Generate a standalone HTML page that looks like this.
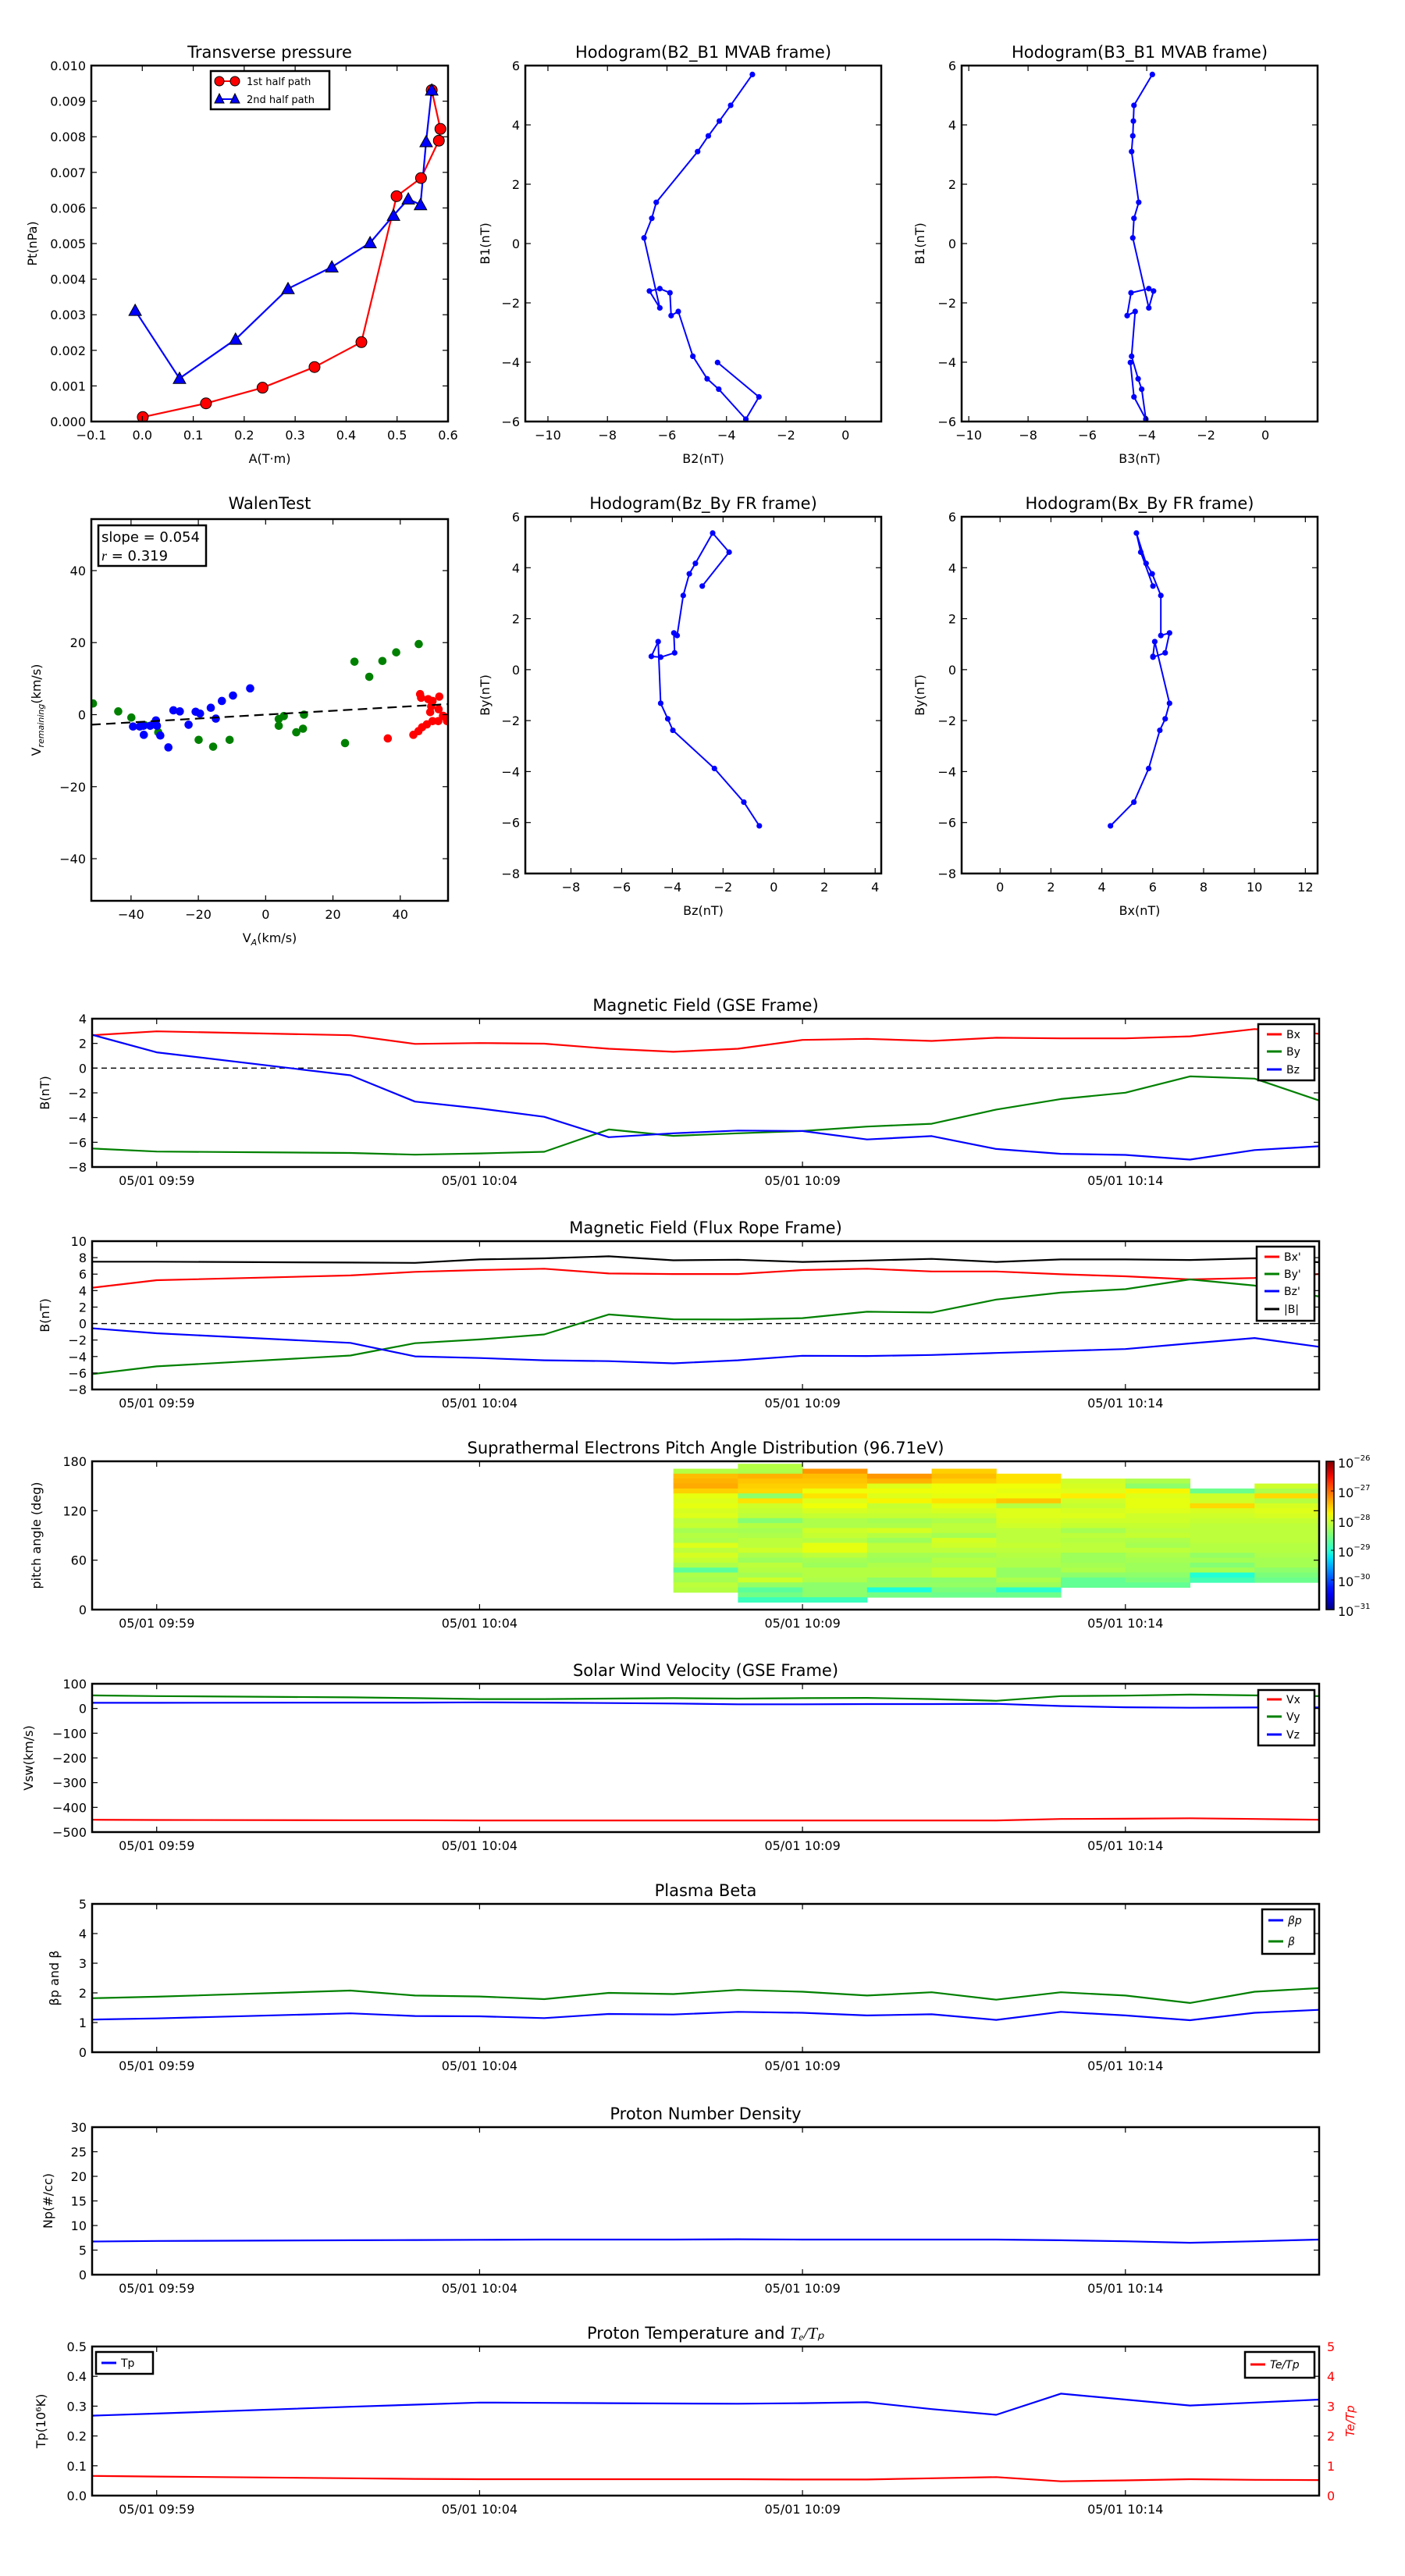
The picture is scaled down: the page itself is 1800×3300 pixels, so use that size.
<!DOCTYPE html>
<html><head><meta charset="utf-8"><style>
html,body{margin:0;padding:0;background:#fff;}
svg{display:block;font-family:"DejaVu Sans","Liberation Sans",sans-serif;}
</style></head><body>
<svg id="chart" xmlns="http://www.w3.org/2000/svg" width="1800" height="3300" viewBox="0 0 1800 3300"><rect width="1800" height="3300" fill="#fff"/></svg>
<script>
// ---------- data ----------
const tpRedA=[0.001,0.125,0.236,0.338,0.430,0.499,0.547,0.582,0.585,0.568];
const tpRedP=[0.000126,0.00051,0.00095,0.00153,0.00223,0.00633,0.00684,0.00789,0.00822,0.00931];
const tpBlueA=[-0.014,0.073,0.183,0.286,0.372,0.447,0.493,0.522,0.546,0.557,0.568];
const tpBlueP=[0.00312,0.00121,0.00231,0.00373,0.00434,0.00502,0.00579,0.00625,0.00609,0.00786,0.00931];
const mvB1=[5.70,4.66,4.13,3.63,3.10,1.39,0.85,0.19,-2.17,-1.60,-1.52,-1.66,-2.43,-2.29,-3.80,-4.56,-4.91,-5.92,-5.17,-4.01];
const mvB2=[-3.13,-3.86,-4.24,-4.61,-4.97,-6.36,-6.51,-6.77,-6.24,-6.59,-6.24,-5.90,-5.86,-5.62,-5.13,-4.65,-4.26,-3.35,-2.91,-4.30];
const mvB3=[-3.81,-4.43,-4.45,-4.47,-4.51,-4.27,-4.43,-4.47,-3.93,-3.77,-3.93,-4.53,-4.66,-4.39,-4.51,-4.29,-4.17,-4.03,-4.43,-4.55];
const wBlueX=[-39.4,-36.2,-36.3,-32.6,-32.3,-31.3,-28.9,-27.4,-25.5,-22.9,-20.8,-19.5,-16.3,-14.8,-13.0,-9.7,-4.6,-37.4,-34.3];
const wBlueY=[-3.3,-5.6,-3.1,-1.6,-3.1,-5.8,-9.1,1.2,0.9,-2.8,0.8,0.3,1.9,-1.1,3.8,5.3,7.3,-3.3,-3.1];
const wGreenX=[-51.3,-43.8,-39.9,-36.0,-31.9,-19.9,-15.6,-10.7,3.9,3.9,5.4,9.1,11.1,11.4,23.6,26.4,30.8,34.7,38.8,45.5];
const wGreenY=[3.1,0.9,-0.8,-2.9,-4.9,-7.0,-8.9,-7.0,-1.2,-3.1,-0.4,-4.9,-3.9,0,-7.9,14.7,10.5,14.9,17.3,19.6];
const wRedX=[36.3,43.9,45.4,46.5,47.9,49.6,51.3,53.2,53.9,48.9,51.4,45.9,46.2,48.3,49.6,51.6,49.2,52.7];
const wRedY=[-6.6,-5.6,-4.6,-3.5,-2.7,-1.8,-1.8,-0.6,-1.8,0.7,1.5,5.7,4.7,4.3,3.8,5.0,2.3,-0.3];
const walenSlope=0.054, walenIntercept=0.0;
const times=[0,1,4,5,6,7,8,9,10,11,12,13,14,15,16,17,18,19];
const timeTicks=[1,6,11,16];
const timeLabels=['05/01 09:59','05/01 10:04','05/01 10:09','05/01 10:14'];
const gseBx=[2.66,2.98,2.66,1.96,2.03,1.98,1.57,1.32,1.57,2.28,2.37,2.2,2.46,2.41,2.41,2.57,3.16,2.78];
const gseBy=[-6.5,-6.75,-6.86,-7.0,-6.9,-6.77,-4.96,-5.48,-5.27,-5.09,-4.73,-4.5,-3.35,-2.5,-1.99,-0.67,-0.85,-2.62];
const gseBz=[2.7,1.28,-0.58,-2.71,-3.26,-3.94,-5.59,-5.27,-5.05,-5.09,-5.77,-5.5,-6.54,-6.93,-7.02,-7.4,-6.63,-6.32];
const frBx=[4.34,5.26,5.84,6.28,6.49,6.66,6.08,6.01,6.01,6.49,6.66,6.32,6.32,5.98,5.74,5.36,5.53,6.01];
const frBy=[-6.13,-5.2,-3.88,-2.38,-1.93,-1.32,1.1,0.52,0.49,0.66,1.44,1.34,2.91,3.76,4.17,5.36,4.61,3.28];
const frBz=[-0.57,-1.18,-2.34,-3.98,-4.18,-4.46,-4.56,-4.83,-4.46,-3.91,-3.94,-3.81,-3.57,-3.33,-3.09,-2.41,-1.76,-2.82];
const frBt=[7.51,7.51,7.4,7.37,7.78,7.92,8.16,7.68,7.75,7.48,7.65,7.85,7.48,7.78,7.78,7.72,7.92,7.44];
const padMinutes=[9,10,11,12,13,14,15,16,17,18];
const padFirstRow=[1,0,1,2,1,2,3,3,5,4];
const padLog=[
[-28.15,-27.45,-27.4,-27.35,-27.55,-27.85,-27.9,-27.85,-27.95,-27.9,-28.1,-28.05,-28.25,-28.15,-28.2,-27.9,-28.1,-27.95,-28.05,-28.2,-28.7,-28.2,-28.25,-28.1,-28.15],
[-28.15,-28.2,-27.4,-27.5,-27.55,-27.6,-28.4,-27.65,-28.0,-28.05,-28.1,-28.45,-28.15,-28.25,-28.2,-28.1,-28.1,-28.0,-28.2,-28.3,-28.1,-28.15,-28.25,-28.0,-28.35,-28.7,-28.55,-28.9],
[-27.25,-27.45,-27.5,-27.55,-27.8,-27.65,-27.9,-27.8,-27.95,-28.05,-28.2,-28.2,-28.0,-28.05,-28.15,-27.85,-27.85,-28.1,-28.25,-28.3,-28.15,-28.15,-28.2,-28.4,-28.4,-28.4,-28.9],
[-27.25,-27.4,-27.9,-27.8,-27.9,-27.75,-28.05,-28.0,-28.05,-28.25,-28.2,-27.95,-28.15,-28.3,-28.1,-28.1,-28.25,-28.3,-28.2,-28.15,-28.15,-28.4,-28.35,-29.1,-28.55],
[-27.55,-27.45,-27.55,-27.8,-27.8,-27.85,-27.65,-27.85,-27.95,-28.05,-28.2,-28.1,-28.1,-28.25,-27.95,-28.0,-28.1,-28.25,-28.15,-28.2,-28.05,-28.05,-28.4,-28.35,-28.5,-28.6],
[-27.65,-27.65,-27.8,-27.85,-27.8,-27.5,-28.15,-27.9,-27.9,-27.95,-28.0,-28.1,-28.1,-28.1,-28.05,-28.1,-28.15,-28.2,-28.2,-28.35,-28.35,-28.2,-28.3,-29.0,-28.6],
[-28.0,-27.95,-27.9,-27.7,-28.0,-28.05,-27.95,-27.9,-28.0,-28.05,-28.25,-28.1,-28.15,-28.1,-28.1,-28.3,-28.3,-28.25,-28.2,-28.4,-28.65,-28.65],
[-28.2,-28.4,-27.75,-27.9,-27.85,-27.85,-27.9,-28.0,-28.0,-28.05,-28.1,-28.05,-28.2,-28.25,-28.1,-28.2,-28.25,-28.3,-28.3,-28.4,-28.5,-28.65],
[-28.6,-28.0,-28.0,-27.6,-27.95,-28.0,-28.05,-28.1,-28.1,-28.1,-28.1,-28.15,-28.15,-28.35,-28.25,-28.45,-28.25,-29.05,-28.85],
[-28.0,-28.2,-27.6,-28.15,-27.95,-27.9,-27.95,-28.05,-28.1,-28.1,-28.1,-28.1,-28.15,-28.15,-28.2,-28.25,-28.25,-28.4,-28.5,-28.6]];
const swVx=[-450,-451,-452,-452,-453,-453,-453,-453,-453,-453,-453,-453,-453,-447,-446,-444,-447,-450];
const swVy=[53,50,45,42,38,38,40,42,40,42,43,38,31,50,52,56,53,50];
const swVz=[23,23,24,24,25,24,22,20,17,17,18,18,19,10,5,3,4,4];
const betaP=[1.10,1.14,1.31,1.22,1.21,1.15,1.29,1.27,1.36,1.33,1.24,1.28,1.09,1.36,1.24,1.08,1.33,1.43];
const betaT=[1.82,1.87,2.08,1.91,1.88,1.79,2.0,1.96,2.10,2.04,1.91,2.02,1.77,2.02,1.91,1.66,2.04,2.16];
const npVals=[6.75,6.85,7.0,7.05,7.1,7.15,7.15,7.15,7.2,7.15,7.15,7.15,7.15,7.0,6.8,6.5,6.8,7.15];
const tpVals=[0.268,0.275,0.298,0.305,0.312,0.311,0.310,0.309,0.308,0.310,0.313,0.29,0.271,0.342,0.322,0.302,0.312,0.322];
const teTp=[0.66,0.64,0.58,0.56,0.55,0.55,0.55,0.55,0.55,0.54,0.54,0.58,0.62,0.48,0.51,0.55,0.53,0.52];

// ---------- helpers ----------
const NS='http://www.w3.org/2000/svg';
const svg=document.getElementById('chart');
let clipN=0;
function mk(tag,attrs,parent){const e=document.createElementNS(NS,tag);for(const k in attrs)e.setAttribute(k,attrs[k]);(parent||svg).appendChild(e);return e;}
function fmt(v,d){let s=(d===undefined)?String(v):v.toFixed(d);return s.replace('-','\u2212');}
function text(parent,x,y,s,size,anchor,extra){const t=mk('text',Object.assign({x:x,y:y,'font-size':size,'text-anchor':anchor||'middle',fill:'#000'},extra||{}),parent);t.textContent=s;return t;}
function axes(name,box,xr,yr){
  const g=mk('g',{});
  
  
  const sx=v=>box[0]+(v-xr[0])/(xr[1]-xr[0])*(box[2]-box[0]);
  const sy=v=>box[3]-(v-yr[0])/(yr[1]-yr[0])*(box[3]-box[1]);
  const id='clip'+(clipN++);
  const cp=mk('clipPath',{id:id},g);
  mk('rect',{x:box[0],y:box[1],width:box[2]-box[0],height:box[3]-box[1]},cp);
  const plot=mk('g',{'clip-path':'url(#'+id+')'},g);
  
  
  return {g,plot,sx,sy,box};
}
function frame(ax){const r=mk('rect',{x:ax.box[0],y:ax.box[1],width:ax.box[2]-ax.box[0],height:ax.box[3]-ax.box[1],fill:'none',stroke:'#000','stroke-width':2.5},ax.g);
  
  }
function xticks(ax,vals,labels,size){const b=ax.box;const g=mk('g',{},ax.g);
  
  
  vals.forEach((v,i)=>{const x=ax.sx(v);
    mk('line',{x1:x,x2:x,y1:b[3],y2:b[3]-7,stroke:'#000','stroke-width':1.2},g);
    mk('line',{x1:x,x2:x,y1:b[1],y2:b[1]+7,stroke:'#000','stroke-width':1.2},g);
    const t=text(g,x,b[3]+23,labels[i],size||16,'middle');
    
    });}
function yticks(ax,vals,labels,size,noRight){const b=ax.box;const g=mk('g',{},ax.g);
  
  
  vals.forEach((v,i)=>{const y=ax.sy(v);
    mk('line',{x1:b[0],x2:b[0]+7,y1:y,y2:y,stroke:'#000','stroke-width':1.2},g);
    if(!noRight)mk('line',{x1:b[2],x2:b[2]-7,y1:y,y2:y,stroke:'#000','stroke-width':1.2},g);
    const t=text(g,b[0]-7,y+6,labels[i],size||16,'end');
    
    });}
function title(ax,s,dy){const t=text(ax.g,(ax.box[0]+ax.box[2])/2,ax.box[1]-(dy||10),s,21,'middle');
  
  return t;}
function xlabel(ax,s){const t=text(ax.g,(ax.box[0]+ax.box[2])/2,ax.box[3]+53,s,16,'middle');
  
  return t;}
function ylabel(ax,x,s,color){const cy=(ax.box[1]+ax.box[3])/2;const t=text(ax.g,x,cy,s,16,'middle',{transform:'rotate(-90 '+x+' '+cy+')',fill:color||'#000'});
  
  return t;}
function polyline(ax,xs,ys,color,w,name){const pts=xs.map((x,i)=>ax.sx(x).toFixed(1)+','+ax.sy(ys[i]).toFixed(1)).join(' ');
  const p=mk('polyline',{points:pts,fill:'none',stroke:color,'stroke-width':w||2.2,'stroke-linejoin':'round'},ax.plot);
  
  return p;}
function dots(ax,xs,ys,color,r,name,stroke){const g=mk('g',{},ax.plot);
  
  
  xs.forEach((x,i)=>{const c=mk('circle',{cx:ax.sx(x),cy:ax.sy(ys[i]),r:r,fill:color},g);if(stroke){c.setAttribute('stroke',stroke);c.setAttribute('stroke-width',1);}});return g;}
function tris(ax,xs,ys,color,s,name){const g=mk('g',{},ax.plot);
  
  
  xs.forEach((x,i)=>{const cx=ax.sx(x),cy=ax.sy(ys[i]);mk('polygon',{points:`${cx},${cy-s} ${cx-s},${cy+s*0.8} ${cx+s},${cy+s*0.8}`,fill:color,stroke:'#000','stroke-width':1},g);});return g;}
function range(a,b,s){const r=[];for(let v=a;v<=b+1e-9;v+=s)r.push(Math.round(v*1000)/1000);return r;}
function legendBox(ax,x0,y0,x1,y1,name){const r=mk('rect',{x:x0,y:y0,width:x1-x0,height:y1-y0,fill:'#fff',stroke:'#000','stroke-width':2.5},ax.g);
  
  }
function legendEntry(ax,x,y,color,label,name,italic){const g=mk('g',{},ax.g);
  
  
  mk('line',{x1:x,x2:x+19,y1:y,y2:y,stroke:color,'stroke-width':3},g);
  const t=text(g,x+25,y+5,label,14,'start');if(italic)t.setAttribute('font-style','italic');return g;}
function jet(t){t=Math.max(0,Math.min(1,t));
  const f=(pts)=>{for(let i=1;i<pts.length;i++){if(t<=pts[i][0]){const a=pts[i-1],b=pts[i];return a[1]+(b[1]-a[1])*(t-a[0])/(b[0]-a[0]);}}return pts[pts.length-1][1];};
  const r=f([[0,0],[0.35,0],[0.66,1],[0.89,1],[1,0.5]]);
  const g=f([[0,0],[0.125,0],[0.375,1],[0.64,1],[0.91,0],[1,0]]);
  const b=f([[0,0.5],[0.11,1],[0.34,1],[0.65,0],[1,0]]);
  return `rgb(${Math.round(r*255)},${Math.round(g*255)},${Math.round(b*255)})`;}

// ---------- Transverse pressure ----------
(function(){const ax=axes('transverse-pressure-chart',[117,84,574,540],[-0.1,0.6],[0,0.01]);
  polyline(ax,tpRedA,tpRedP,'#f00',2.2,'first-half-line');
  polyline(ax,tpBlueA,tpBlueP,'#00f',2.2,'second-half-line');
  dots(ax,tpRedA,tpRedP,'#f00',7,'first-half-markers','#000');
  tris(ax,tpBlueA,tpBlueP,'#00f',8,'second-half-markers');
  frame(ax);
  xticks(ax,range(-0.1,0.6,0.1),range(-0.1,0.6,0.1).map(v=>fmt(v,1)));
  yticks(ax,range(0,0.01,0.001),range(0,0.01,0.001).map(v=>fmt(v,3)));
  title(ax,'Transverse pressure');xlabel(ax,'A(T\u00b7m)');ylabel(ax,47,'Pt(nPa)');
  legendBox(ax,270,91,422,140,'legend');
  const g1=mk('g',{},ax.g);
  
  
  mk('line',{x1:281,x2:301,y1:104,y2:104,stroke:'#f00','stroke-width':2},g1);
  mk('circle',{cx:281,cy:104,r:6,fill:'#f00',stroke:'#000'},g1);mk('circle',{cx:301,cy:104,r:6,fill:'#f00',stroke:'#000'},g1);
  text(g1,316,109,'1st half path',13,'start');
  const g2=mk('g',{},ax.g);
  
  
  mk('line',{x1:281,x2:301,y1:127,y2:127,stroke:'#00f','stroke-width':2},g2);
  mk('polygon',{points:'281,120 275,132 287,132',fill:'#00f',stroke:'#000'},g2);mk('polygon',{points:'301,120 295,132 307,132',fill:'#00f',stroke:'#000'},g2);
  text(g2,316,132,'2nd half path',13,'start');
})();

// ---------- Hodograms ----------
function hodo(name,box,xr,yr,xs,ys,xt,yt,tl,xl,yl,ylx){const ax=axes(name,box,xr,yr);
  polyline(ax,xs,ys,'#00f',2,'hodogram-path');dots(ax,xs,ys,'#00f',3.6,'hodogram-points');
  frame(ax);xticks(ax,xt,xt.map(v=>fmt(v)));yticks(ax,yt,yt.map(v=>fmt(v)));
  title(ax,tl);xlabel(ax,xl);ylabel(ax,ylx,yl);}
hodo('hodogram-b2-b1',[673,84,1129,540],[-10.76,1.2],[-6,6],mvB2,mvB1,range(-10,0,2),range(-6,6,2),'Hodogram(B2_B1 MVAB frame)','B2(nT)','B1(nT)',627);
hodo('hodogram-b3-b1',[1232,84,1688,540],[-10.24,1.76],[-6,6],mvB3,mvB1,range(-10,0,2),range(-6,6,2),'Hodogram(B3_B1 MVAB frame)','B3(nT)','B1(nT)',1184);
hodo('hodogram-bz-by',[673,662,1129,1119],[-9.8,4.24],[-8,6],frBz,frBy,range(-8,4,2),range(-8,6,2),'Hodogram(Bz_By FR frame)','Bz(nT)','By(nT)',627);
hodo('hodogram-bx-by',[1232,662,1688,1119],[-1.51,12.48],[-8,6],frBx,frBy,range(0,12,2),range(-8,6,2),'Hodogram(Bx_By FR frame)','Bx(nT)','By(nT)',1184);

// ---------- Walen test ----------
(function(){const ax=axes('walen-test-chart',[117,665,574,1154],[-51.8,54.2],[-51.7,54.3]);
  dots(ax,wGreenX,wGreenY,'#008000',5.3,'green-points');
  dots(ax,wBlueX,wBlueY,'#00f',5.3,'blue-points');
  dots(ax,wRedX,wRedY,'#f00',5.3,'red-points');
  const fx=[-51.8,54.2];const fy=fx.map(v=>walenSlope*v+walenIntercept);
  const fl=polyline(ax,fx,fy,'#000',2.2,'fit-line');fl.setAttribute('stroke-dasharray','12,7');
  frame(ax);
  xticks(ax,range(-40,40,20),range(-40,40,20).map(v=>fmt(v)));yticks(ax,range(-40,40,20),range(-40,40,20).map(v=>fmt(v)));
  title(ax,'WalenTest',13);
  const xl=xlabel(ax,'');xl.textContent='';const a=mk('tspan',{},xl);a.textContent='V';const s=mk('tspan',{'font-size':11,'font-style':'italic',dy:4},xl);s.textContent='A';const c=mk('tspan',{dy:-4},xl);c.textContent='(km/s)';
  const yl=ylabel(ax,52,'');const a2=mk('tspan',{},yl);a2.textContent='V';const s2=mk('tspan',{'font-size':11,'font-style':'italic',dy:4},yl);s2.textContent='remaining';const c2=mk('tspan',{dy:-4},yl);c2.textContent='(km/s)';
  legendBox(ax,126,673,264,725,'stats-box');
  const t1=text(ax.g,130,694,'slope = 0.054',18,'start');
  
  
  const t2=text(ax.g,130,718,'',18,'start');
  
  
  const ri=mk('tspan',{'font-style':'italic','font-family':'Liberation Serif, serif'},t2);ri.textContent='r';const rv=mk('tspan',{},t2);rv.textContent=' = 0.319';
})();

// ---------- time series ----------
function tsAxes(name,box,yr){const ax=axes(name,box,[0,19],yr);return ax;}
function tsFinish(ax,yt,ylabs,ttl,noRight){frame(ax);xticks(ax,timeTicks,timeLabels);yticks(ax,yt,ylabs,16,noRight);title(ax,ttl);}
function zeroLine(ax){const l=mk('line',{x1:ax.box[0],x2:ax.box[2],y1:ax.sy(0),y2:ax.sy(0),stroke:'#000','stroke-width':1.4,'stroke-dasharray':'7,5'},ax.plot);
  
  }

(function(){const ax=tsAxes('gse-field-chart',[118,1305,1690,1495],[-8,4]);
  zeroLine(ax);
  polyline(ax,times,gseBx,'#f00',2.2,'bx-line');polyline(ax,times,gseBy,'#008000',2.2,'by-line');polyline(ax,times,gseBz,'#00f',2.2,'bz-line');
  tsFinish(ax,range(-8,4,2),range(-8,4,2).map(v=>fmt(v)),'Magnetic Field (GSE Frame)');ylabel(ax,63,'B(nT)');
  legendBox(ax,1612,1312,1684,1384,'legend');
  legendEntry(ax,1623,1325,'#f00','Bx','legend-entry-bx');legendEntry(ax,1623,1347,'#008000','By','legend-entry-by');legendEntry(ax,1623,1370,'#00f','Bz','legend-entry-bz');
})();
(function(){const ax=tsAxes('flux-rope-field-chart',[118,1590,1690,1780],[-8,10]);
  zeroLine(ax);
  polyline(ax,times,frBx,'#f00',2.2,'bx-prime-line');polyline(ax,times,frBy,'#008000',2.2,'by-prime-line');polyline(ax,times,frBz,'#00f',2.2,'bz-prime-line');polyline(ax,times,frBt,'#000',2.2,'btotal-line');
  tsFinish(ax,range(-8,10,2),range(-8,10,2).map(v=>fmt(v)),'Magnetic Field (Flux Rope Frame)');ylabel(ax,63,'B(nT)');
  legendBox(ax,1610,1597,1684,1692,'legend');
  legendEntry(ax,1620,1610,'#f00',"Bx'",'legend-entry-bx-prime');legendEntry(ax,1620,1632,'#008000',"By'",'legend-entry-by-prime');legendEntry(ax,1620,1654,'#00f',"Bz'",'legend-entry-bz-prime');legendEntry(ax,1620,1677,'#000','|B|','legend-entry-btotal');
})();
(function(){const ax=tsAxes('pitch-angle-chart',[118,1872,1690,2062],[0,180]);
  const g=mk('g',{},ax.plot);
  
  
  padMinutes.forEach((m,ci)=>{padLog[ci].forEach((v,k)=>{const row=padFirstRow[ci]+k;const top=177-6*row;
    const x0=ax.sx(m),x1=ax.sx(m+1),y0=ax.sy(top),y1=ax.sy(top-6);
    const r=mk('rect',{x:x0,y:y0,width:x1-x0+0.5,height:y1-y0+0.5,fill:jet((v+31)/5)},g);
    
    });});
  tsFinish(ax,[0,60,120,180],['0','60','120','180'],'Suprathermal Electrons Pitch Angle Distribution (96.71eV)');ylabel(ax,52,'pitch angle (deg)');
  const defs=mk('defs',{});const lg=mk('linearGradient',{id:'jetgrad',x1:0,y1:1,x2:0,y2:0},defs);
  for(let i=0;i<=20;i++)mk('stop',{offset:(i/20),'stop-color':jet(i/20)},lg);
  const cb=mk('g',{});
  
  
  mk('rect',{x:1699,y:1872,width:10,height:190,fill:'url(#jetgrad)',stroke:'#000','stroke-width':1.5},cb);
  [-26,-27,-28,-29,-30,-31].forEach((p,i)=>{const y=1872+i*38;mk('line',{x1:1705,x2:1709,y1:y,y2:y,stroke:'#000'},cb);
    const t=text(cb,1714,y+8,'10',16,'start');const s=mk('tspan',{'font-size':10,dy:-9},t);s.textContent=fmt(p);});
})();
(function(){const ax=tsAxes('solar-wind-velocity-chart',[118,2157,1690,2347],[-500,100]);
  polyline(ax,times,swVx,'#f00',2.2,'vx-line');polyline(ax,times,swVy,'#008000',2.2,'vy-line');polyline(ax,times,swVz,'#00f',2.2,'vz-line');
  tsFinish(ax,range(-500,100,100),range(-500,100,100).map(v=>fmt(v)),'Solar Wind Velocity (GSE Frame)');ylabel(ax,42,'Vsw(km/s)');
  legendBox(ax,1612,2165,1684,2236,'legend');
  legendEntry(ax,1623,2177,'#f00','Vx','legend-entry-vx');legendEntry(ax,1623,2199,'#008000','Vy','legend-entry-vy');legendEntry(ax,1623,2222,'#00f','Vz','legend-entry-vz');
})();
(function(){const ax=tsAxes('plasma-beta-chart',[118,2439,1690,2629],[0,5]);
  polyline(ax,times,betaP,'#00f',2.2,'beta-p-line');polyline(ax,times,betaT,'#008000',2.2,'beta-line');
  tsFinish(ax,range(0,5,1),range(0,5,1).map(v=>fmt(v)),'Plasma Beta');ylabel(ax,75,'\u03b2p and \u03b2');
  legendBox(ax,1617,2446,1684,2503,'legend');
  legendEntry(ax,1625,2460,'#00f','\u03b2p','legend-entry-beta-p',true);legendEntry(ax,1625,2487,'#008000','\u03b2','legend-entry-beta',true);
})();
(function(){const ax=tsAxes('proton-density-chart',[118,2725,1690,2914],[0,30]);
  polyline(ax,times,npVals,'#00f',2.2,'np-line');
  tsFinish(ax,range(0,30,5),range(0,30,5).map(v=>fmt(v)),'Proton Number Density');ylabel(ax,67,'Np(#/cc)');
})();
(function(){const ax=tsAxes('proton-temperature-chart',[118,3006,1690,3197],[0,0.5]);
  const sy2=v=>ax.box[3]-v/5*(ax.box[3]-ax.box[1]);
  polyline(ax,times,tpVals,'#00f',2.2,'tp-line');
  const pts=times.map((t,i)=>ax.sx(t).toFixed(1)+','+sy2(teTp[i]).toFixed(1)).join(' ');
  const p=mk('polyline',{points:pts,fill:'none',stroke:'#f00','stroke-width':2.2},ax.plot);
  
  
  tsFinish(ax,range(0,0.5,0.1),range(0,0.5,0.1).map(v=>fmt(v,1)),'',true);
  const tt=title(ax,'Proton Temperature and ');const it=mk('tspan',{'font-style':'italic','font-family':'Liberation Serif, serif'},tt);it.textContent='T\u2091/T\u209a';
  ylabel(ax,58,'Tp(10\u2076K)');
  const rg=mk('g',{},ax.g);
  
  
  [0,1,2,3,4,5].forEach(v=>{const y=sy2(v);mk('line',{x1:ax.box[2],x2:ax.box[2]-7,y1:y,y2:y,stroke:'#000','stroke-width':1.2},rg);text(rg,1700,y+6,String(v),16,'start',{fill:'#f00'});});
  const cy=(ax.box[1]+ax.box[3])/2;text(rg,1735,cy,'Te/Tp',15,'middle',{fill:'#f00','font-style':'italic',transform:'rotate(-90 1735 '+cy+')'});
  legendBox(ax,123,3013,196,3041,'tp-legend');legendEntry(ax,130,3027,'#00f','Tp','legend-entry-tp');
  legendBox(ax,1595,3013,1684,3046,'te-tp-legend');legendEntry(ax,1602,3029,'#f00','Te/Tp','legend-entry-te-tp',true);
})();
</script>
</body></html>
